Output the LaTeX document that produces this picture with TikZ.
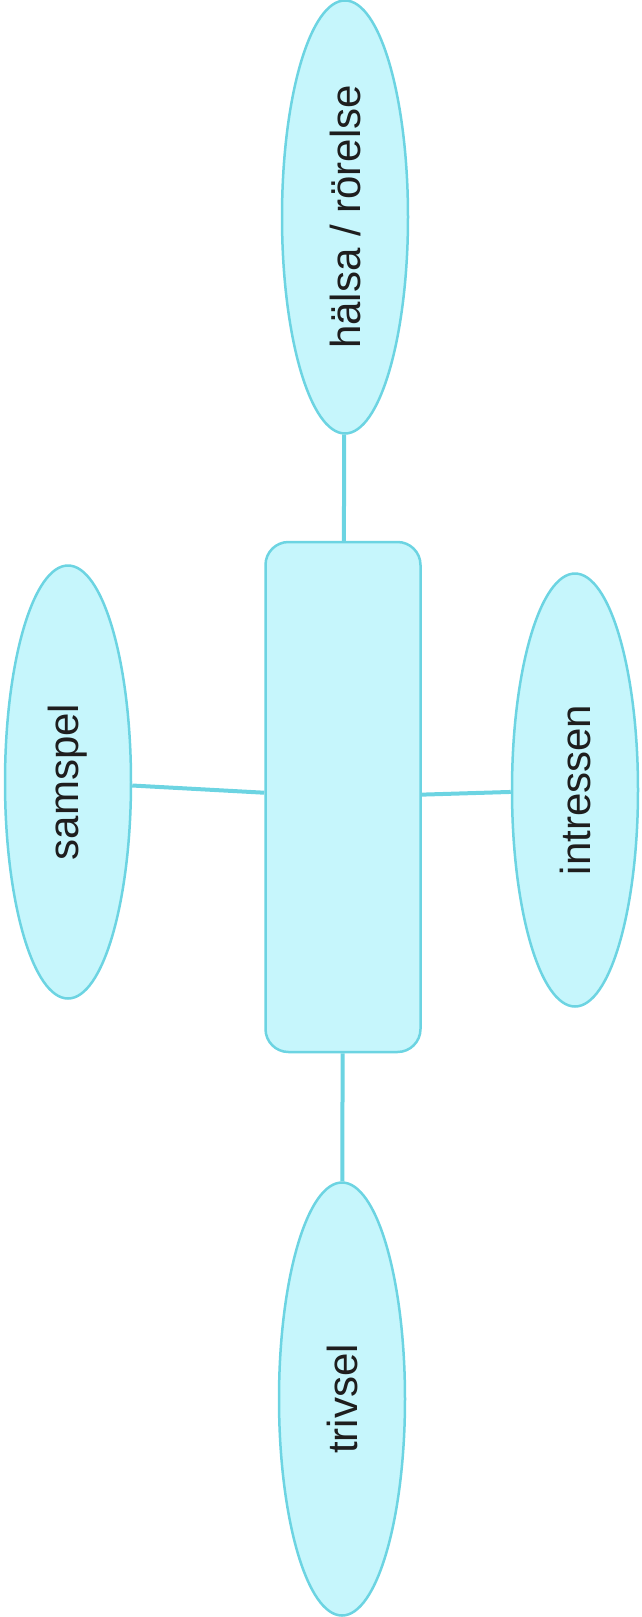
\documentclass[tikz,border=0pt]{standalone}
\usepackage{fontspec}
\setmainfont{Liberation Sans}
\usetikzlibrary{shapes.geometric}
\definecolor{cyanfill}{RGB}{198,246,252}
\definecolor{cyanline}{RGB}{108,212,226}
\definecolor{textgray}{RGB}{30,30,30}

\begin{document}
\begin{tikzpicture}[x=1pt,y=-1pt,
  bubble/.style={ellipse,draw=cyanline,fill=cyanfill,line width=2.5pt,
    minimum width=433pt,minimum height=126pt,inner sep=0pt,rotate=90,
    text=textgray,font=\fontsize{42}{46}\selectfont},
  midbox/.style={rectangle,rounded corners=23pt,draw=cyanline,fill=cyanfill,
    line width=2.5pt,minimum width=155pt,minimum height=510pt},
  link/.style={draw=cyanline,line width=4pt}]
\useasboundingbox (0,0) rectangle (641,1617);
% centre box and the four bubbles
\node[midbox] (mitt) at (343,797) {};
\node[bubble] (halsa) at (345,217) {hälsa / rörelse};
\node[bubble] (samspel) at (68,782) {samspel};
\node[bubble] (intressen) at (575,790) {intressen};
\node[bubble] (trivsel) at (342,1399) {trivsel};
% links
\draw[link] (halsa) -- (mitt);
\draw[link] (samspel) -- (mitt);
\draw[link] (intressen) -- (mitt);
\draw[link] (trivsel) -- (mitt);
\end{tikzpicture}
\end{document}
